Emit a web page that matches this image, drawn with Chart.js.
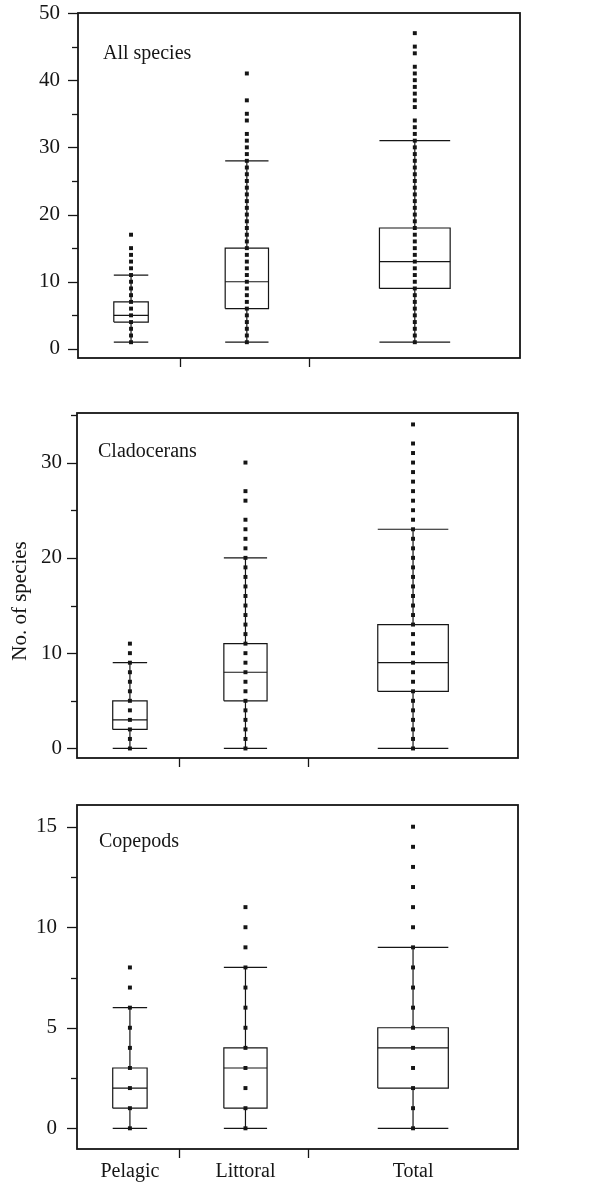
<!DOCTYPE html>
<html><head><meta charset="utf-8">
<script src="https://cdn.jsdelivr.net/npm/chart.js@4/dist/chart.umd.min.js"></script>
<style>
html,body{margin:0;padding:0;background:#fff;}
body{width:613px;height:1192px;position:relative;overflow:hidden;}
canvas{position:absolute;left:0;}
</style></head><body>
<canvas id="c1" width="613" height="380" style="top:0px"></canvas>
<canvas id="c2" width="613" height="390" style="top:390px"></canvas>
<canvas id="c3" width="613" height="407" style="top:785px"></canvas>
<script>
// ---------- data ----------
const categories = ['Pelagic', 'Littoral', 'Total'];
const categoryX = [1.2, 3.82, 7.62];     // positions on the x scale
const boundaryX = [2.32, 5.24];          // x-axis tick marks between groups

// All species
const allMin = [1, 1, 1];
const allQ1  = [4, 6, 9];
const allMed = [5, 10, 13];
const allQ3  = [7, 15, 18];
const allMax = [11, 28, 31];
const allPelagicDots  = [1,2,3,4,5,6,7,8,9,10,11,12,13,14,15,17];
const allLittoralDots = [1,2,3,4,5,6,7,8,9,10,11,12,13,14,15,16,17,18,19,20,21,22,23,24,25,26,27,28,29,30,31,32,34,35,37,41];
const allTotalDots    = [1,2,3,4,5,6,7,8,9,10,11,12,13,14,15,16,17,18,19,20,21,22,23,24,25,26,27,28,29,30,31,32,33,34,36,37,38,39,40,41,42,44,45,47];
const allMajorTicks = [0, 10, 20, 30, 40, 50];
const allMinorTicks = [5, 15, 25, 35, 45];

// Cladocerans
const claMin = [0, 0, 0];
const claQ1  = [2, 5, 6];
const claMed = [3, 8, 9];
const claQ3  = [5, 11, 13];
const claMax = [9, 20, 23];
const claPelagicDots  = [0,1,2,3,4,5,6,7,8,9,10,11];
const claLittoralDots = [0,1,2,3,4,5,6,7,8,9,10,11,12,13,14,15,16,17,18,19,20,21,22,23,24,26,27,30];
const claTotalDots    = [0,1,2,3,4,5,6,7,8,9,10,11,12,13,14,15,16,17,18,19,20,21,22,23,24,25,26,27,28,29,30,31,32,34];
const claMajorTicks = [0, 10, 20, 30];
const claMinorTicks = [5, 15, 25, 35];

// Copepods
const copMin = [0, 0, 0];
const copQ1  = [1, 1, 2];
const copMed = [2, 3, 4];
const copQ3  = [3, 4, 5];
const copMax = [6, 8, 9];
const copPelagicDots  = [0,1,2,3,4,5,6,7,8];
const copLittoralDots = [0,1,2,3,4,5,6,7,8,9,10,11];
const copTotalDots    = [0,1,2,3,4,5,6,7,8,9,10,11,12,13,14,15];
const copMajorTicks = [0, 5, 10, 15];
const copMinorTicks = [2.5, 7.5, 12.5];

// ---------- style ----------
const INK = '#151515';
const FONT = "'Liberation Serif', 'Times New Roman', serif";
const boxHalfWidth = [0.39, 0.49, 0.80];

const decoPlugin = {
  id: 'deco',
  afterDraw(chart, args, o) {
    const {ctx, chartArea: a} = chart;
    const y = chart.scales.y;
    ctx.save();
    ctx.strokeStyle = INK;
    ctx.lineWidth = 1.3;
    const ticks = o.major.concat(o.minor);
    ticks.forEach(v => {
      const py = Math.round(y.getPixelForValue(v)) + 0.5;
      const len = o.major.includes(v) ? 10 : 6;
      ctx.beginPath();
      ctx.moveTo(a.left - len, py);
      ctx.lineTo(a.left, py);
      ctx.stroke();
    });
    ctx.lineWidth = 1.8;
    ctx.strokeRect(a.left, a.top, a.right - a.left, a.bottom - a.top);
    ctx.fillStyle = INK;
    ctx.font = '20px ' + FONT;
    ctx.textAlign = 'left';
    ctx.textBaseline = 'alphabetic';
    ctx.fillText(o.label, o.labelX, o.labelY);
    if (o.yTitle) {
      ctx.save();
      ctx.translate(o.yTitleX, o.yTitleY);
      ctx.rotate(-Math.PI / 2);
      ctx.textAlign = 'center';
      ctx.textBaseline = 'middle';
      ctx.font = '21px ' + FONT;
      ctx.fillText(o.yTitle, 0, 0);
      ctx.restore();
    }
    ctx.restore();
  }
};

function boxDatasets(lo, q1, med, q3, hi) {
  const ds = [];
  for (let i = 0; i < categoryX.length; i++) {
    const x = categoryX[i], h = boxHalfWidth[i];
    const segs = [
      [{x: x - h, y: q1[i]}, {x: x + h, y: q1[i]}, {x: x + h, y: q3[i]}, {x: x - h, y: q3[i]}, {x: x - h, y: q1[i]}],
      [{x: x - h, y: med[i]}, {x: x + h, y: med[i]}],
      [{x: x - h, y: lo[i]}, {x: x + h, y: lo[i]}],
      [{x: x - h, y: hi[i]}, {x: x + h, y: hi[i]}],
      [{x: x, y: lo[i]}, {x: x, y: q1[i]}],
      [{x: x, y: q3[i]}, {x: x, y: hi[i]}]
    ];
    segs.forEach(d => ds.push({
      data: d, showLine: true, pointRadius: 0, borderColor: INK,
      borderWidth: 1.2, fill: false, tension: 0, order: 2
    }));
  }
  return ds;
}

function dotDatasets(dotLists) {
  return dotLists.map((vals, i) => ({
    data: vals.map(v => ({x: categoryX[i], y: v})),
    showLine: false, pointStyle: 'rect', pointRadius: 2.8,
    backgroundColor: INK, borderWidth: 0, order: 0
  }));
}

function makePanel(id, p) {
  const xTicks = p.showLabels ? boundaryX.concat(categoryX).sort((a, b) => a - b) : boundaryX.slice();
  return new Chart(document.getElementById(id), {
    type: 'scatter',
    data: {datasets: dotDatasets(p.dots).concat(boxDatasets(p.lo, p.q1, p.med, p.q3, p.hi))},
    plugins: [decoPlugin],
    options: {
      responsive: false,
      animation: false,
      devicePixelRatio: 1,
      events: [],
      layout: {padding: {top: p.padTop, right: p.padRight, left: 0, bottom: 0}},
      plugins: {
        legend: {display: false},
        tooltip: {enabled: false},
        deco: {label: p.label, labelX: p.labelX, labelY: p.labelY, major: p.major, minor: p.minor,
               yTitle: p.yTitle, yTitleX: p.yTitleX, yTitleY: p.yTitleY}
      },
      scales: {
        x: {
          type: 'linear', position: 'bottom', min: 0, max: 10,
          afterBuildTicks: s => { s.ticks = xTicks.map(v => ({value: v})); },
          afterFit: s => { s.height = p.xHeight; },
          border: {display: false},
          grid: {
            display: true, drawOnChartArea: false, drawTicks: true, tickLength: 9, tickWidth: 1.3,
            tickColor: c => (c.tick && boundaryX.includes(c.tick.value)) ? INK : 'rgba(0,0,0,0)'
          },
          ticks: {
            autoSkip: false, maxRotation: 0, minRotation: 0, padding: 2, color: INK,
            font: {family: FONT, size: 20},
            callback: v => { const i = categoryX.indexOf(v); return (p.showLabels && i >= 0) ? categories[i] : ''; }
          }
        },
        y: {
          type: 'linear', position: 'left', min: p.yMin, max: p.yMax,
          afterBuildTicks: s => { s.ticks = p.major.map(v => ({value: v})); },
          afterFit: s => { s.width = p.yWidth; },
          border: {display: false},
          grid: {display: true, drawOnChartArea: false, drawTicks: true, tickLength: p.tickGap, tickColor: 'rgba(0,0,0,0)'},
          ticks: {padding: 0, color: INK, font: {family: FONT, size: 21}, callback: v => String(v)}
        }
      }
    }
  });
}

makePanel('c1', {
  label: 'All species', labelX: 103, labelY: 59,
  dots: [allPelagicDots, allLittoralDots, allTotalDots],
  lo: allMin, q1: allQ1, med: allMed, q3: allQ3, hi: allMax,
  major: allMajorTicks, minor: allMinorTicks,
  yMin: -1.35, yMax: 50, padTop: 13, padRight: 93, yWidth: 78, xHeight: 22, tickGap: 18,
  showLabels: false
});
makePanel('c2', {
  label: 'Cladocerans', labelX: 98, labelY: 67,
  dots: [claPelagicDots, claLittoralDots, claTotalDots],
  lo: claMin, q1: claQ1, med: claMed, q3: claQ3, hi: claMax,
  major: claMajorTicks, minor: claMinorTicks,
  yMin: -1.0, yMax: 35.2, padTop: 23, padRight: 95, yWidth: 77, xHeight: 22, tickGap: 15,
  showLabels: false,
  yTitle: 'No. of species', yTitleX: 20, yTitleY: 211
});
makePanel('c3', {
  label: 'Copepods', labelX: 99, labelY: 62,
  dots: [copPelagicDots, copLittoralDots, copTotalDots],
  lo: copMin, q1: copQ1, med: copMed, q3: copQ3, hi: copMax,
  major: copMajorTicks, minor: copMinorTicks,
  yMin: -1.03, yMax: 16.08, padTop: 20, padRight: 95, yWidth: 77, xHeight: 43, tickGap: 20,
  showLabels: true
});
</script>
</body></html>
